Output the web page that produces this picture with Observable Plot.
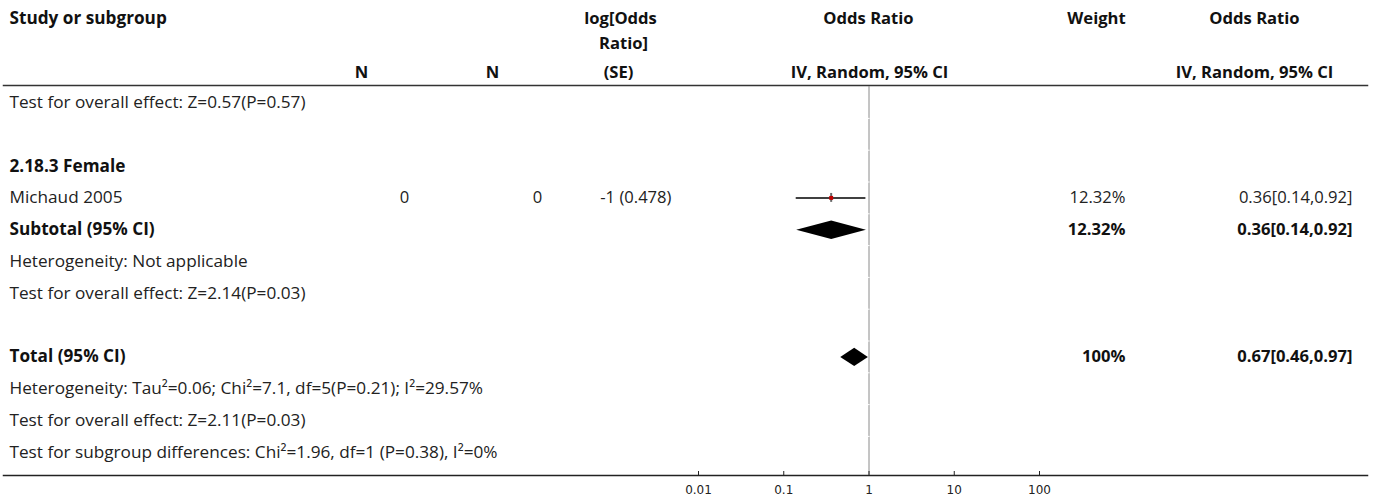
<!DOCTYPE html>
<html>
<head>
<meta charset="utf-8">
<script src="https://cdn.jsdelivr.net/npm/d3@7"></script>
<script src="https://cdn.jsdelivr.net/npm/@observablehq/plot@0.6"></script>
<style>
  html, body { margin: 0; padding: 0; background: #fff; }
  #chart { width: 1375px; height: 499px; }
</style>
</head>
<body>
<div id="chart"></div>
<script>
// ---------- data ----------
const rowLabels = [
  "Test for overall effect: Z=0.57(P=0.57)",
  "",
  "2.18.3 Female",
  "Michaud 2005",
  "Subtotal (95% CI)",
  "Heterogeneity: Not applicable",
  "Test for overall effect: Z=2.14(P=0.03)",
  "",
  "Total (95% CI)",
  "Heterogeneity: Tau²=0.06; Chi²=7.1, df=5(P=0.21); I²=29.57%",
  "Test for overall effect: Z=2.11(P=0.03)",
  "Test for subgroup differences: Chi²=1.96, df=1 (P=0.38), I²=0%"
];
const boldRows = [2, 4, 8];

const studyRows = [3];
const studyN1 = ["0"];
const studyN2 = ["0"];
const studyLogSE = ["-1 (0.478)"];
const studyOR = [0.36];
const studyLo = [0.14];
const studyHi = [0.92];
const studyWeight = ["12.32%"];
const studyCI = ["0.36[0.14,0.92]"];

const pooledRows = [4, 8];
const pooledOR = [0.36, 0.67];
const pooledLo = [0.14, 0.46];
const pooledHi = [0.92, 0.97];
const pooledWeight = ["12.32%", "100%"];
const pooledCI = ["0.36[0.14,0.92]", "0.67[0.46,0.97]"];

const headerTop = ["Study or subgroup", "log[Odds", "Odds Ratio", "Weight", "Odds Ratio"];
const headerMid = ["Ratio]"];
const headerBottom = ["N", "N", "(SE)", "IV, Random, 95% CI", "IV, Random, 95% CI"];

const axisTicks = [0.01, 0.1, 1, 10, 100];
const axisLabels = ["0.01", "0.1", "1", "10", "100"];

// ---------- layout ----------
const ML = 3;
const headerTopX = [9, 620, 868, 1096, 1254];
const headerTopAnchor = ["start", "middle", "middle", "middle", "middle"];
const headerTopSize = [17.2, 16.6, 16.6, 16.6, 16.6];
const headerMidX = [623];
const headerBottomX = [361, 492, 618, 869, 1254];
const colX = {label: 9, n1: 404, n2: 537, logse: 671, weight: 1125, ci: 1352};
const FONT = "'Open Sans', 'Noto Sans', sans-serif";
const FS = 16.6;
const FS_LABEL = 17.2;
const TXT = "#222";

const rows = rowLabels.map((t, i) => ({i, t, bold: boldRows.includes(i)}));
const studies = studyRows.map((r, k) => ({
  row: r, n1: studyN1[k], n2: studyN2[k], logse: studyLogSE[k],
  or: studyOR[k], lo: studyLo[k], hi: studyHi[k], weight: studyWeight[k], ci: studyCI[k]
}));
const pooled = pooledRows.map((r, k) => ({
  row: r, or: pooledOR[k], lo: pooledLo[k], hi: pooledHi[k], weight: pooledWeight[k], ci: pooledCI[k]
}));
const diamondH = 0.29;
const diamondPts = pooled.flatMap((p, k) => [
  {k, x: p.lo, y: p.row},
  {k, x: p.or, y: p.row - diamondH},
  {k, x: p.hi, y: p.row},
  {k, x: p.or, y: p.row + diamondH},
  {k, x: p.lo, y: p.row}
]);
const rowBoundaries = d3.range(0, 11).map(i => i + 0.5);

const textCol = (data, opts) => Plot.text(data, {frameAnchor: "left", lineAnchor: "middle",
  fontFamily: FONT, fontSize: FS, fill: TXT, ...opts});
const headText = (arr, xs, dy, anchors, sizes) => arr.map((h, k) => Plot.text([h], {
  frameAnchor: "top-left", lineAnchor: "middle", dx: xs[k] - ML, dy,
  textAnchor: anchors ? anchors[k] : "middle", fontWeight: "bold",
  fontSize: sizes ? sizes[k] : FS, fontFamily: FONT, fill: "#111"}));

const chart = Plot.plot({
  width: 1375,
  height: 499,
  marginTop: 85,
  marginBottom: 24,
  marginLeft: ML,
  marginRight: 8,
  x: {type: "log", domain: [0.01, 100], range: [698, 1039], axis: null},
  y: {domain: [0, 11], range: [102, 451.8], axis: null},
  style: {background: "white", fontFamily: FONT},
  marks: [
    // header line and bottom axis line
    Plot.frame({anchor: "top", stroke: "#333", strokeWidth: 1.5}),
    Plot.frame({anchor: "bottom", stroke: "#222", strokeWidth: 1.5}),
    // header texts
    ...headText(headerTop, headerTopX, -67, headerTopAnchor, headerTopSize),
    ...headText(headerMid, headerMidX, -42),
    ...headText(headerBottom, headerBottomX, -13),
    // null line (x = 1) with small breaks at row boundaries
    Plot.ruleX([1], {insetTop: 1, stroke: "#8a8a8a", strokeWidth: 1}),
    Plot.ruleY(rowBoundaries, {y: d => d, x1: () => 0.97, x2: () => 1.03, stroke: "white", strokeWidth: 1}),
    // row labels
    textCol(rows.filter(d => !d.bold), {y: "i", text: "t", dx: colX.label - ML, textAnchor: "start", fontSize: FS_LABEL}),
    textCol(rows.filter(d => d.bold), {y: "i", text: "t", dx: colX.label - ML, textAnchor: "start",
      fontWeight: "bold", fill: "#111", fontSize: FS_LABEL}),
    // study columns
    textCol(studies, {y: "row", text: "n1", dx: colX.n1 - ML, textAnchor: "middle"}),
    textCol(studies, {y: "row", text: "n2", dx: colX.n2 - ML, textAnchor: "middle"}),
    textCol(studies, {y: "row", text: "logse", dx: colX.logse - ML, textAnchor: "end"}),
    textCol(studies, {y: "row", text: "weight", dx: colX.weight - ML, textAnchor: "end"}),
    textCol(studies, {y: "row", text: "ci", dx: colX.ci - ML, textAnchor: "end"}),
    textCol(pooled, {y: "row", text: "weight", dx: colX.weight - ML, textAnchor: "end", fontWeight: "bold", fill: "#111"}),
    textCol(pooled, {y: "row", text: "ci", dx: colX.ci - ML, textAnchor: "end", fontWeight: "bold", fill: "#111"}),
    // study CI and marker
    Plot.ruleY(studies, {y: "row", x1: "lo", x2: "hi", stroke: "#000", strokeWidth: 1.5}),
    Plot.ruleX(studies, {x: "or", y1: d => d.row - 0.14, y2: d => d.row + 0.14, stroke: "#666", strokeWidth: 2}),
    Plot.dot(studies, {x: "or", y: "row", symbol: "square", r: 2.2, fill: "#c00000", stroke: null}),
    // diamonds
    Plot.line(diamondPts, {x: "x", y: "y", z: "k", fill: "#000", stroke: null, curve: "linear"}),
    // axis ticks and labels
    Plot.tickX(axisTicks, {x: d => d, insetTop: 386, stroke: "#222", strokeWidth: 1}),
    Plot.text(axisTicks, {x: d => d, text: (d, i) => axisLabels[i], frameAnchor: "bottom", lineAnchor: "middle", dy: 15,
      fontFamily: "'DejaVu Sans', sans-serif", fontSize: 12, fill: "#222"})
  ]
});
document.getElementById("chart").appendChild(chart);
</script>
</body>
</html>
